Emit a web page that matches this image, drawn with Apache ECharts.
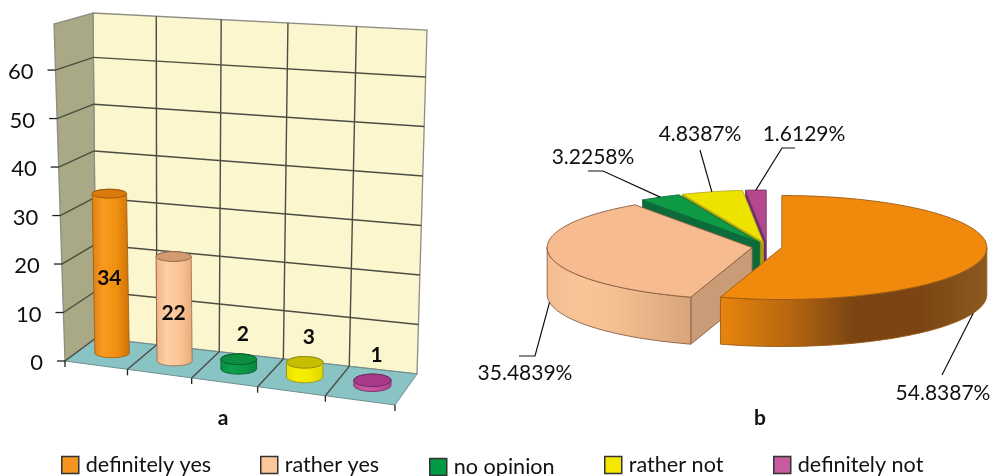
<!DOCTYPE html>
<html>
<head>
<meta charset="utf-8">
<style>html,body{margin:0;padding:0;background:#fff}#chart{width:993px;height:476px}</style>
<script src="https://cdn.jsdelivr.net/npm/echarts@6/dist/echarts.min.js"></script>
</head>
<body>
<div id="chart"></div>
<script>
// Survey answers
const categories = ['definitely yes', 'rather yes', 'no opinion', 'rather not', 'definitely not'];
const answerCounts = [34, 22, 2, 3, 1];
const valueTicks = [0, 10, 20, 30, 40, 50, 60];

const faceColors = ['#F7941D', '#FBC79B', '#009A44', '#F5E800', '#C65C9E'];
const legendLefts = [61, 260, 429, 604, 773];
const legendTops = [454, 454, 456, 454, 454];

// Box of the 3D column chart: corners as [x, y], named by width / depth / height
const box = {
  f00: [65, 361], f10: [395, 405], f01: [96, 338], f11: [417, 374],
  t00: [54, 24], t10: [398, 48], t01: [93, 13], t11: [427, 30]
};
const widthPerspective = 1.07;
const cylinderHeightScale = 0.98;
const mix = (a, b, k) => [a[0] + (b[0] - a[0]) * k, a[1] + (b[1] - a[1]) * k];
function project(u, d, t) {
  const w = u / (u + widthPerspective * (1 - u));
  const floor = mix(mix(box.f00, box.f10, w), mix(box.f01, box.f11, w), d);
  const top = mix(mix(box.t00, box.t10, w), mix(box.t01, box.t11, w), d);
  return mix(floor, top, t);
}
function heightFraction(params, api, value) {
  const r = params.coordSys;
  return (r.y + r.height - api.coord([0, value])[1]) / r.height;
}

const lineStyle = { stroke: '#4c4c42', lineWidth: 1.4, fill: null };
const seg = (a, b, style) => ({ type: 'line', shape: { x1: a[0], y1: a[1], x2: b[0], y2: b[1] }, style: style });
const poly = (points, style) => ({ type: 'polygon', shape: { points: points }, style: style });

// Wall and floor planes
function renderPlanes() {
  const edge = { stroke: '#8d8d84', lineWidth: 1.3 };
  return { type: 'group', children: [
    poly([project(0, 1, 0), project(1, 1, 0), project(1, 1, 1), project(0, 1, 1)], { fill: '#FBF6CE', ...edge }),
    poly([project(0, 0, 0), project(0, 1, 0), project(0, 1, 1), project(0, 0, 1)], { fill: '#A9A985', ...edge }),
    poly([project(0, 0, 0), project(1, 0, 0), project(1, 1, 0), project(0, 1, 0)], { fill: '#8AC3C4', stroke: '#6f8f90', lineWidth: 1 })
  ] };
}

// Value gridlines, axis ticks and axis labels
function renderValueLine(params, api) {
  const v = api.value(0);
  const t = heightFraction(params, api, v);
  const front = project(0, 0, t);
  const back = project(0, 1, t);
  const children = [
    seg(front, back, lineStyle),
    seg([front[0] - 8, front[1]], front, { stroke: '#222', lineWidth: 1.3 }),
    { type: 'text', style: { text: String(v), x: front[0] - 22, y: front[1] + 2, align: 'right', verticalAlign: 'middle',
      font: '22px Lato', fill: '#111' } }
  ];
  if (v > 0) children.push(seg(back, project(1, 1, t), lineStyle));
  return { type: 'group', children: children };
}

// Category dividers on the back wall and floor, with their ticks
function renderCategoryLine(params, api) {
  const u = api.value(0) / categories.length;
  const foot = project(u, 0, 0);
  const children = [seg(foot, [foot[0], foot[1] + 6], { stroke: '#222', lineWidth: 1.3 })];
  if (u > 0 && u < 1) {
    children.push(seg(project(u, 1, 0), project(u, 1, 1), lineStyle));
    children.push(seg(foot, project(u, 1, 0), lineStyle));
  }
  return { type: 'group', children: children };
}

// One cylinder per answer
const cylinderShades = [
  { stops: ['#E07E0B', '#F99B20', '#F0900F', '#CF7208'], cap: '#DB7A0C', line: '#9a5a10' },
  { stops: ['#F0B285', '#FDD0A6', '#FBC494', '#E8AC7C'], cap: '#D29B70', line: '#8f6a4e' },
  { stops: ['#0A8E42', '#0BA04C', '#0B9646', '#0A8540'], cap: '#0B8E3F', line: '#0a5a30' },
  { stops: ['#E8DE00', '#F7EE00', '#F2E800', '#DED400'], cap: '#C6BE00', line: '#8a8a20' },
  { stops: ['#B5488F', '#CC5AA6', '#C24F9C', '#AE4489'], cap: '#A83A8A', line: '#702a60' }
];
function ellipsePoints(c, rx, ry, from, to) {
  const pts = [];
  for (let a = from; a <= to + 0.001; a += 10) {
    const r = a * Math.PI / 180;
    pts.push([c[0] + rx * Math.cos(r), c[1] + ry * Math.sin(r)]);
  }
  return pts;
}
function renderCylinder(index) {
  return function (params, api) {
    const value = api.value(1);
    const base = api.coord([index, 0]);
    const r = params.coordSys;
    const u = (base[0] - r.x) / r.width;
    const t = heightFraction(params, api, value) * cylinderHeightScale;
    const bottom = project(u, 0.5, 0);
    const top = project(u, 0.5, t);
    bottom[0] += 1;
    top[0] += 1;
    const band = api.size([1, 0])[0];
    const rx = band * (0.258 + 0.026 * u);
    const ry = 4.2 + 2.3 * u;
    const shade = cylinderShades[index];
    const stops = shade.stops.map((c, i) => ({ offset: [0, 0.3, 0.65, 1][i], color: c }));
    const bodyFill = new echarts.graphic.LinearGradient(0, 0, 1, 0, stops);
    const body = ellipsePoints(bottom, rx, ry, 0, 180).concat(ellipsePoints(top, rx, ry, 180, 360));
    const children = [
      poly(body, { fill: bodyFill, stroke: shade.line, lineWidth: 0.8 }),
      { type: 'ellipse', shape: { cx: top[0], cy: top[1], rx: rx, ry: ry },
        style: { fill: shade.cap, stroke: shade.line, lineWidth: 1 } }
    ];
    const inside = value >= 10;
    const labelY = inside ? (bottom[1] + top[1]) / 2 + 5 : top[1] - 25;
    children.push({ type: 'text', z2: 10, style: { text: String(value), x: top[0] + (inside ? 0 : 4), y: labelY,
      align: 'center', verticalAlign: 'middle', font: 'bold 21px Lato', fill: '#0c0c0c' } });
    return { type: 'group', children: children };
  };
}

// Exploded pie drawn with a tilted ellipse and an extruded rim
const pie = { x: 767, y: 246.8, rx: 205, ry: 52, depth: 47, explode: 15, explodeTilt: 0.32 };
const total = answerCounts.reduce((s, v) => s + v, 0);
const pieShades = [
  { top: '#F18A0C', line: '#9a5a14', wall: ['#E8850F', '#B8680F', '#7A4512', '#7A4512', '#8B5A20'] },
  { top: '#F6BC8F', line: '#8a5e42', cut: '#C99B76', wall: ['#F3BC92', '#F8C598', '#F4BE90', '#E6B186', '#D7A57B'] },
  { top: '#0F9B45', line: '#0b6b3a', cut: '#0B6B3A' },
  { top: '#EDE200', line: '#b5ad20', cut: '#A9A100' },
  { top: '#B5478F', line: '#7a3a72', cut: '#6A2A6A' }
];
const pieLabelLayout = [
  { x: 943, y: 393, path: [[942, 375]], anchorDeg: 111, rim: true },
  { x: 525, y: 373, path: [[519, 356], [535, 356]], rim: true },
  { x: 593, y: 157, path: [[588, 171], [603, 171]] },
  { x: 700, y: 134, path: [[700, 150]] },
  { x: 804, y: 134, path: [[795, 148], [782, 148]] }
];
const rad = d => d * Math.PI / 180;

function renderSlice(params, api) {
  const index = api.value(0);
  const value = api.value(1);
  const before = answerCounts.slice(0, index).reduce((s, v) => s + v, 0);
  const start = before / total * 360;
  const end = (before + value) / total * 360;
  const mid = (start + end) / 2;
  const cx = pie.x + pie.explode * Math.sin(rad(mid));
  const cy = pie.y - pie.explode * pie.explodeTilt * Math.cos(rad(mid));
  const at = a => [cx + pie.rx * Math.sin(rad(a)), cy - pie.ry * Math.cos(rad(a))];
  const down = p => [p[0], p[1] + pie.depth];
  const arc = (from, to) => {
    const pts = [];
    for (let a = from; a < to; a += 2) pts.push(at(a));
    pts.push(at(to));
    return pts;
  };
  const shade = pieShades[index];
  const apex = [cx, cy];
  const border = { stroke: shade.line, lineWidth: 0.9 };
  const children = [];
  if (start > 0) {
    children.push(poly([apex, at(start), down(at(start)), down(apex)], { fill: shade.cut, ...border }));
  }
  const wallFrom = Math.max(start, 90);
  const wallTo = Math.min(end, 270);
  if (wallTo > wallFrom) {
    const rim = arc(wallFrom, wallTo);
    // Stops run left to right across the rim
    const stops = shade.wall.map((c, i, list) => ({ offset: i / (list.length - 1), color: c }));
    children.push(poly(rim.concat(rim.slice().reverse().map(down)), {
      fill: new echarts.graphic.LinearGradient(0, 0, 1, 0, stops), ...border }));
  }
  children.push(poly([apex].concat(arc(start, end)), { fill: shade.top, ...border }));

  // Leader line and percentage label
  const place = pieLabelLayout[index];
  let anchor = at(place.anchorDeg || mid);
  if (place.rim) anchor = down(anchor);
  children.push({ type: 'polyline', shape: { points: place.path.concat([anchor]) }, style: { stroke: '#111', lineWidth: 1.2, fill: null } });
  children.push({ type: 'text', style: { text: (value / total * 100).toFixed(4) + '%', x: place.x, y: place.y,
    align: 'center', verticalAlign: 'middle', font: '21px Lato', fill: '#111' } });
  return { type: 'group', children: children };
}

const sliceOrder = answerCounts.map((v, i) => [i, v]).reverse();

const option = {
  animation: false,
  backgroundColor: '#fff',
  textStyle: { fontFamily: 'Lato' },
  title: [
    { text: 'a', left: 223, top: 408, textAlign: 'center', padding: 0, textStyle: { fontFamily: 'Lato', fontSize: 21, fontWeight: 'bold', color: '#111' } },
    { text: 'b', left: 760, top: 408, textAlign: 'center', padding: 0, textStyle: { fontFamily: 'Lato', fontSize: 21, fontWeight: 'bold', color: '#111' } }
  ],
  legend: categories.map((name, i) => ({
    data: [name], left: legendLefts[i], top: legendTops[i], padding: 0, selectedMode: false,
    icon: 'rect', itemWidth: 17, itemHeight: 17, itemGap: 0,
    itemStyle: { color: faceColors[i], borderColor: '#333', borderWidth: 1.5 },
    textStyle: { fontFamily: 'Lato', fontSize: 21.6, color: '#111', padding: [0, 0, 0, 2] }
  })),
  grid: { left: 65, top: 13, width: 330, height: 348 },
  xAxis: { type: 'category', data: categories, show: false },
  yAxis: { type: 'value', min: 0, max: 69.5, show: false },
  series: [
    { type: 'custom', name: 'planes', coordinateSystem: 'cartesian2d', silent: true, z: 1, data: [[0, 0]], renderItem: renderPlanes },
    { type: 'custom', name: 'value lines', coordinateSystem: 'cartesian2d', silent: true, z: 2, clip: false,
      data: valueTicks.map(v => [v]), encode: { y: 0 }, renderItem: renderValueLine },
    { type: 'custom', name: 'category lines', coordinateSystem: 'cartesian2d', silent: true, z: 2,
      data: Array.from({ length: categories.length + 1 }, (_, i) => [i]), encode: { y: 0 }, renderItem: renderCategoryLine }
  ].concat(categories.map((name, i) => ({
    type: 'custom', name: name, coordinateSystem: 'cartesian2d', silent: true, z: 3,
    itemStyle: { color: faceColors[i] },
    data: [[i, answerCounts[i]]], encode: { x: 0, y: 1 }, renderItem: renderCylinder(i)
  }))).concat([
    { type: 'custom', name: 'shares', coordinateSystem: 'none', silent: true, z: 3, data: sliceOrder, renderItem: renderSlice }
  ])
};
echarts.init(document.getElementById('chart')).setOption(option);
</script>
</body>
</html>
